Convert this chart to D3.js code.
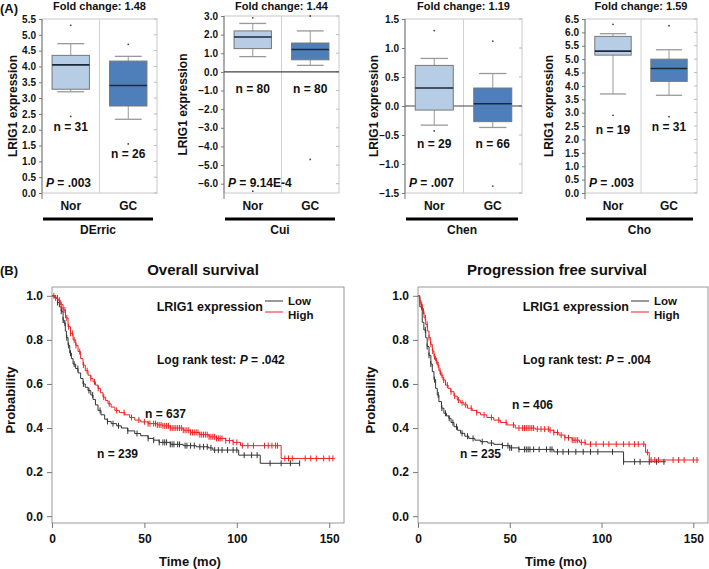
<!DOCTYPE html>
<html>
<head>
<meta charset="utf-8">
<script src="https://cdn.jsdelivr.net/npm/d3@7"></script>
<style>
body{margin:0;background:#fff;}
text{font-family:"Liberation Sans",Arial,sans-serif;font-weight:bold;fill:#111;}
</style>
</head>
<body>
<svg id="fig" width="709" height="569"></svg>
<script>
// ---- panel A data ----
var datasets = ["DErric", "Cui", "Chen", "Cho"];
var groups = ["Nor", "GC"];
var foldChanges = ["1.48", "1.44", "1.19", "1.59"];
var sampleSizes = [[31, 26], [80, 80], [29, 66], [19, 31]];
var pValues = [".003", "9.14E-4", ".007", ".003"];
var yDomains = [[0, 5.5], [-6.5, 3], [-1.5, 1.5], [0, 6.5]];
var tickSteps = [0.5, 1, 0.5, 0.5];
// [lower whisker, q1, median, q3, upper whisker]
var boxStats = [
    [[3.2, 3.28, 4.05, 4.35, 4.72], [2.33, 2.75, 3.4, 4.17, 4.32]],
    [[0.82, 1.25, 1.87, 2.2, 2.6], [0.35, 0.65, 1.2, 1.55, 2.2]],
    [[-0.33, -0.07, 0.31, 0.7, 0.82], [-0.37, -0.27, 0.04, 0.31, 0.56]],
    [[3.7, 5.15, 5.3, 5.85, 5.95], [3.65, 4.17, 4.65, 5.0, 5.35]]
];
var outliers = [
    [[5.3, 2.42], [4.7, 1.55]],
    [[2.9, -6.4], [3.0, -4.7]],
    [[1.3, -0.43], [1.12, -1.38]],
    [[6.3, 2.9], [6.25, 2.85]]
];

// ---- panel B data ----
var kmTitles = ["Overall survival", "Progression free survival"];
var kmPValues = [".042", ".004"];
var kmN = [[239, 637], [235, 406]]; // [low, high]
// step starts [time, survival]
var osLow = [[0,1],[1.5,0.99],[3,0.97],[4,0.95],[5,0.93],[6,0.89],[6.5,0.876],[7.2,0.84],[7.8,0.81],[8.7,0.775],[9.6,0.74],[10.5,0.715],[11.4,0.69],[12.8,0.67],[14.1,0.65],[15.5,0.625],[16.8,0.6],[18,0.585],[19.5,0.57],[21,0.55],[22.2,0.53],[23.5,0.505],[24.9,0.48],[26.5,0.46],[28.5,0.44],[30,0.43],[32,0.42],[35,0.41],[37.5,0.4],[41,0.387],[44.8,0.375],[48,0.365],[52,0.353],[55,0.345],[58,0.335],[64,0.326],[71,0.32],[78,0.315],[84.6,0.31],[87,0.3],[101,0.277],[112.7,0.24],[134,0.24]];
var osHigh = [[0,1],[2,0.99],[3.2,0.98],[4.5,0.96],[6,0.936],[7.3,0.9],[8.7,0.86],[10,0.83],[11.4,0.8],[12.8,0.775],[14.1,0.747],[15.5,0.715],[16.8,0.686],[18,0.66],[19.5,0.64],[21,0.625],[22.2,0.61],[23.5,0.595],[24.9,0.58],[26.2,0.56],[27.6,0.54],[29,0.525],[30.3,0.51],[32,0.495],[34,0.48],[36.5,0.47],[39.4,0.46],[42,0.448],[44.8,0.436],[48,0.428],[52,0.42],[57,0.414],[60,0.41],[64,0.4],[71,0.39],[75,0.38],[80,0.37],[85,0.36],[89,0.353],[94,0.343],[98,0.335],[102,0.32],[124,0.262],[153,0.262]];
var pfsLow = [[0,1],[1,0.95],[2.3,0.88],[3.2,0.845],[4.2,0.81],[5,0.77],[6,0.73],[7,0.69],[7.8,0.656],[8.7,0.62],[9.6,0.58],[10.5,0.55],[11.4,0.52],[12.8,0.49],[14.1,0.467],[15.5,0.455],[16.8,0.444],[18,0.425],[19.6,0.406],[21.5,0.39],[23.2,0.376],[25.5,0.363],[27.7,0.353],[31,0.345],[34,0.338],[38,0.332],[41.3,0.326],[46,0.32],[50,0.31],[55,0.303],[74,0.292],[112,0.247],[135,0.247]];
var pfsHigh = [[0,1],[0.8,0.98],[1.5,0.96],[2.4,0.93],[3.3,0.9],[4.2,0.87],[5.1,0.84],[6,0.81],[6.9,0.78],[7.8,0.75],[8.7,0.724],[9.6,0.705],[10.5,0.686],[11.4,0.66],[12.3,0.64],[13.6,0.618],[15,0.595],[16.4,0.58],[17.8,0.565],[19.6,0.545],[21.4,0.527],[23,0.515],[25,0.505],[27,0.49],[29.5,0.48],[32,0.47],[34,0.46],[37.5,0.448],[41.3,0.436],[45,0.425],[48.5,0.414],[53,0.4],[64,0.395],[71.4,0.39],[74,0.38],[76.8,0.368],[80,0.356],[84,0.345],[88,0.335],[91.3,0.327],[124,0.29],[126,0.255],[153,0.255]];
// censor times
var osLowCens = [3,5,6,7,8,9,10,12,14,17,20,22,26,30,33,36,41,46,52,55,58,60,61,62,64,65,66,68,69,72,73,75,77,80,82,84,86,88,90,92,95,98,100,104,108,111,118,124,129,134];
var osHighCens = [1,2,3,4,5,6,7,8,9,10,11,12,13,15,17,19,21,23,25,28,31,35,39,43,47,50,52,53,55,56,57,58,59,60,61,62,63,64,65,66,67,68,69,70,71,72,73,74,75,76,77,78,79,80,81,82,83,84,85,86,87,88,89,90,91,92,94,96,98,100,103,106,109,115,117,119,121,122,126,128,130,137,140,143,147,150,152];
var pfsLowCens = [2,4,5,6,7,9,11,13,15,17,19,21,24,27,30,35,40,46,49,50,51,55,58,59,60,61,63,66,70,72,73,76,79,82,86,90,94,98,106,112,118,121,126,130,134];
var pfsHighCens = [1,2,3,4,5,6,7,8,9,10,11,12,13,14,16,18,20,22,24,26,29,32,36,40,44,48,52,55,57,58,59,60,61,62,63,65,67,69,71,72,74,76,78,80,82,84,85,86,87,89,91,94,97,101,104,108,112,115,118,120,123,125,127,129,131,139,142,145,150,152];

var svg = d3.select("#fig");
var norColor = "#b7cde5", gcColor = "#4f7fba";

// ---------- Panel A ----------
var boxLayout = [
    {left: 42, right: 157, top: 19, ylab: 13},
    {left: 224, right: 339, top: 16, ylab: 183},
    {left: 405, right: 522, top: 19, ylab: 374},
    {left: 585, right: 697, top: 19, ylab: 549}
];
// baseline of n labels (pixels)
var nLabelY = [[131, 158], [93, 93], [148, 148], [134, 131]];
var boxBottom = 193;

svg.append("text").attr("x", 0).attr("y", 13).style("font-size", "13px").text("(A)");

for (var i = 0; i < datasets.length; i++) {
    var L = boxLayout[i];
    var g = svg.append("g");
    var y = d3.scaleLinear().domain(yDomains[i]).range([boxBottom, L.top]);
    var x = d3.scaleBand().domain(groups).range([L.left, L.right])
        .paddingInner(0.35).paddingOuter(0.175);
    var mid = (L.left + L.right) / 2;

    // frame
    g.append("rect").attr("x", L.left).attr("y", L.top)
        .attr("width", L.right - L.left).attr("height", boxBottom - L.top)
        .attr("fill", "none").attr("stroke", "#c8c8c8");
    g.append("line").attr("x1", mid).attr("x2", mid).attr("y1", L.top).attr("y2", boxBottom)
        .attr("stroke", "#d0d0d0");

    var ticks = d3.range(yDomains[i][0], yDomains[i][1] + 1e-9, tickSteps[i]);
    if (i == 1) ticks = d3.range(-6, 3.01, 1);
    // right minor ticks
    g.selectAll(".rt").data(ticks).enter().append("line")
        .attr("x1", L.right).attr("x2", L.right - 3)
        .attr("y1", function(d) { return y(d); }).attr("y2", function(d) { return y(d); })
        .attr("stroke", "#bbb");

    var ax = g.append("g").attr("transform", "translate(" + L.left + ",0)")
        .call(d3.axisLeft(y).tickValues(ticks).tickSize(3).tickPadding(3).tickFormat(d3.format(".1f")));
    ax.select(".domain").attr("stroke", "#777").attr("d", "M0," + L.top + "V" + (boxBottom + 6));
    ax.selectAll(".tick line").attr("stroke", "#777");
    ax.selectAll("text").style("font-size", "10px").attr("fill", "#222")
        .style("font-family", "'Liberation Sans',Arial,sans-serif").style("font-weight", "bold");

    // zero line
    if (yDomains[i][0] < 0) {
        g.append("line").attr("x1", L.left).attr("x2", L.right)
            .attr("y1", y(0)).attr("y2", y(0)).attr("stroke", "#444").attr("stroke-width", 1.2);
    }

    // boxes
    for (var k = 0; k < groups.length; k++) {
        var s = boxStats[i][k];
        var bx = x(groups[k]), bw = x.bandwidth(), cx = bx + bw / 2, cw = bw * 0.36;
        g.append("line").attr("x1", cx).attr("x2", cx).attr("y1", y(s[0])).attr("y2", y(s[1])).attr("stroke", "#999");
        g.append("line").attr("x1", cx).attr("x2", cx).attr("y1", y(s[3])).attr("y2", y(s[4])).attr("stroke", "#999");
        g.append("line").attr("x1", cx - cw).attr("x2", cx + cw).attr("y1", y(s[0])).attr("y2", y(s[0])).attr("stroke", "#999").attr("stroke-width", 1.3);
        g.append("line").attr("x1", cx - cw).attr("x2", cx + cw).attr("y1", y(s[4])).attr("y2", y(s[4])).attr("stroke", "#999").attr("stroke-width", 1.3);
        g.append("rect").attr("x", bx).attr("y", y(s[3])).attr("width", bw)
            .attr("height", y(s[1]) - y(s[3]))
            .attr("fill", k == 0 ? norColor : gcColor).attr("stroke", "#777");
        g.append("line").attr("x1", bx).attr("x2", bx + bw).attr("y1", y(s[2])).attr("y2", y(s[2]))
            .attr("stroke", "#1a2a3a").attr("stroke-width", 1.6);
        g.selectAll(".out" + k).data(outliers[i][k]).enter().append("circle")
            .attr("cx", cx).attr("cy", function(d) { return y(d); }).attr("r", 0.9).attr("fill", "#444");

        g.append("text").attr("x", cx).attr("y", nLabelY[i][k]).attr("text-anchor", "middle")
            .style("font-size", "12px").text("n = " + sampleSizes[i][k]);
        g.append("text").attr("x", cx).attr("y", 210).attr("text-anchor", "middle")
            .style("font-size", "12px").text(groups[k]);
    }

    var pt = g.append("text").attr("x", L.left + 4).attr("y", 187).style("font-size", "12px");
    pt.append("tspan").style("font-style", "italic").text("P");
    pt.append("tspan").text(i == 1 ? " = " + pValues[i] : " =  " + pValues[i]);

    g.append("text").attr("x", mid).attr("y", 10).attr("text-anchor", "middle")
        .style("font-size", "11px").text("Fold change: " + foldChanges[i]);
    g.append("text").attr("transform", "translate(" + L.ylab + "," + ((L.top + boxBottom) / 2) + ") rotate(-90)")
        .attr("text-anchor", "middle").attr("dy", "0.35em").style("font-size", "12px").text("LRIG1 expression");
    g.append("line").attr("x1", L.left + 1).attr("x2", L.right - 4).attr("y1", 219).attr("y2", 219)
        .attr("stroke", "#000").attr("stroke-width", 3);
    g.append("text").attr("x", (L.left + L.right - 3) / 2).attr("y", 234).attr("text-anchor", "middle")
        .style("font-size", "12px").text(datasets[i]);
}

// ---------- Panel B ----------
svg.append("text").attr("x", 0).attr("y", 275).style("font-size", "13px").text("(B)");

var kmLayout = [{left: 52, right: 344, title: 203, ylab: 10}, {left: 418, right: 708, title: 557, ylab: 370}];
var kmTop = 287, kmBottom = 525;
var kmCurves = [[osLow, osHigh], [pfsLow, pfsHigh]];
var kmCens = [[osLowCens, osHighCens], [pfsLowCens, pfsHighCens]];
var nLabelPos = [[[45, 458], [93, 418]], [[42, 458], [94, 409]]];

function survAt(steps, t) {
    var v = steps[0][1];
    for (var j = 0; j < steps.length; j++) { if (steps[j][0] <= t) v = steps[j][1]; }
    return v;
}

for (var p = 0; p < 2; p++) {
    var K = kmLayout[p];
    var gk = svg.append("g");
    var xs = d3.scaleLinear().domain([0, 158]).range([K.left, K.right]);
    var ys = d3.scaleLinear().domain([-0.04, 1.04]).range([kmBottom, kmTop]);

    gk.append("rect").attr("x", K.left).attr("y", kmTop).attr("width", K.right - K.left)
        .attr("height", kmBottom - kmTop - 2).attr("fill", "none").attr("stroke", "#999");

    var ya = gk.append("g").attr("transform", "translate(" + K.left + ",0)")
        .call(d3.axisLeft(ys).tickValues([0, 0.2, 0.4, 0.6, 0.8, 1.0]).tickSize(5).tickPadding(4).tickFormat(d3.format(".1f")));
    var xa = gk.append("g").attr("transform", "translate(0," + (kmBottom - 2) + ")")
        .call(d3.axisBottom(xs).tickValues([0, 50, 100, 150]).tickSize(5).tickPadding(6));
    [ya, xa].forEach(function(a) {
        a.select(".domain").remove();
        a.selectAll(".tick line").attr("stroke", "#777");
        a.selectAll("text").style("font-size", "12px").attr("fill", "#111")
            .style("font-family", "'Liberation Sans',Arial,sans-serif").style("font-weight", "bold");
    });

    var line = d3.line().curve(d3.curveStepAfter)
        .x(function(d) { return xs(d[0]); }).y(function(d) { return ys(d[1]); });
    var colors = ["#333", "#f02020"];
    for (var c = 0; c < 2; c++) {
        gk.append("path").datum(kmCurves[p][c]).attr("d", line)
            .attr("fill", "none").attr("stroke", colors[c]).attr("stroke-width", 1);
        var steps = kmCurves[p][c];
        gk.selectAll(".cens" + c).data(kmCens[p][c]).enter().append("line")
            .attr("x1", function(d) { return xs(d); }).attr("x2", function(d) { return xs(d); })
            .attr("y1", function(d) { return ys(survAt(steps, d)) - 3; })
            .attr("y2", function(d) { return ys(survAt(steps, d)) + 3; })
            .attr("stroke", colors[c]).attr("stroke-width", 1);
    }

    gk.append("text").attr("x", K.title).attr("y", 275).attr("text-anchor", "middle")
        .style("font-size", "15px").text(kmTitles[p]);
    gk.append("text").attr("x", K.left + 211).attr("y", 311).attr("text-anchor", "end")
        .style("font-size", "12.5px").text("LRIG1 expression");
    gk.append("line").attr("x1", K.left + 213).attr("x2", K.left + 231).attr("y1", 301).attr("y2", 301).attr("stroke", colors[0]);
    gk.append("line").attr("x1", K.left + 213).attr("x2", K.left + 231).attr("y1", 312).attr("y2", 312).attr("stroke", colors[1]);
    gk.append("text").attr("x", K.left + 236).attr("y", 305).style("font-size", "11.5px").text("Low");
    gk.append("text").attr("x", K.left + 236).attr("y", 319).style("font-size", "11.5px").text("High");

    var lr = gk.append("text").attr("x", K.left + 105).attr("y", 364).style("font-size", "12px");
    lr.append("tspan").text("Log rank test: ");
    lr.append("tspan").style("font-style", "italic").text("P");
    lr.append("tspan").text(" = " + kmPValues[p]);

    for (var c2 = 0; c2 < 2; c2++) {
        gk.append("text").attr("x", K.left + nLabelPos[p][c2][0]).attr("y", nLabelPos[p][c2][1])
            .style("font-size", "12px").text("n = " + kmN[p][c2]);
    }

    gk.append("text").attr("transform", "translate(" + K.ylab + ",400) rotate(-90)")
        .attr("text-anchor", "middle").attr("dy", "0.35em").style("font-size", "13px").text("Probability");
    gk.append("text").attr("x", K.left + 138).attr("y", 566).attr("text-anchor", "middle")
        .style("font-size", "13px").text("Time (mo)");
}
</script>
</body>
</html>
